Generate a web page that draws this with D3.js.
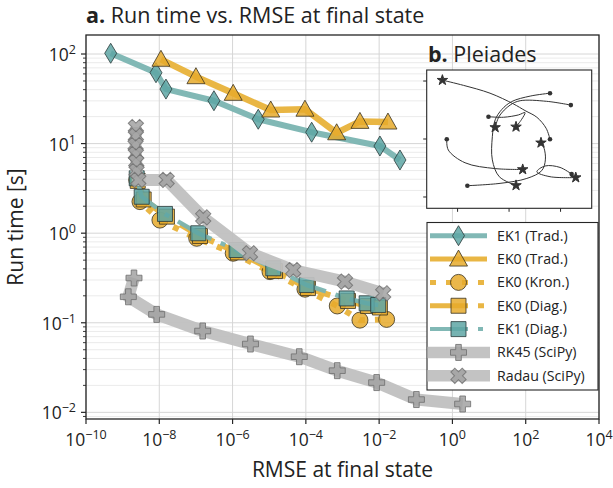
<!DOCTYPE html>
<html><head><meta charset="utf-8">
<script src="https://cdn.jsdelivr.net/npm/d3@7"></script>
<style>body{margin:0;background:#fff} svg{display:block;font-family:"Open Sans",sans-serif}</style>
</head><body><svg id="c" width="613" height="488"></svg>
<script>
// ---------- data ----------
const ek1TradErr  = [4.72e-10, 8.13e-9, 1.52e-8, 3.10e-7, 5.02e-6, 1.44e-4, 1.05e-2, 3.70e-2];
const ek1TradTime = [101.9, 61.8, 40.6, 30.1, 18.7, 13.4, 9.40, 6.56];
const ek0TradErr  = [1.11e-8, 1.00e-7, 1.04e-6, 1.10e-5, 9.44e-5, 6.92e-4, 2.99e-3, 1.74e-2];
const ek0TradTime = [87.3, 55.8, 36.4, 23.7, 24.2, 13.2, 17.7, 17.4];
const ek0KronErr  = [2.42e-9, 2.97e-9, 1.04e-8, 1.05e-7, 1.04e-6, 1.05e-5, 9.44e-5, 7.19e-4, 2.99e-3, 1.60e-2];
const ek0KronTime = [3.93, 2.25, 1.40, 0.877, 0.597, 0.372, 0.237, 0.154, 0.107, 0.109];
const ek0DiagErr  = [2.58e-9, 3.75e-9, 1.62e-8, 1.29e-7, 1.40e-6, 1.44e-5, 1.14e-4, 1.41e-3, 4.94e-3, 1.05e-2];
const ek0DiagTime = [3.83, 2.38, 1.53, 0.931, 0.610, 0.378, 0.244, 0.175, 0.154, 0.148];
const ek1DiagErr  = [2.42e-9, 3.31e-9, 1.43e-8, 1.16e-7, 1.29e-6, 1.29e-5, 1.05e-4, 1.30e-3, 4.56e-3, 9.44e-3];
const ek1DiagTime = [4.10, 2.55, 1.64, 0.998, 0.649, 0.406, 0.264, 0.187, 0.165, 0.158];
const rk45Err     = [2.04e-9, 1.43e-9, 8.49e-9, 1.53e-7, 3.08e-6, 6.61e-5, 7.19e-4, 8.55e-3, 1.04e-1, 1.90];
const rk45Time    = [0.316, 0.195, 0.124, 0.0809, 0.0579, 0.0418, 0.0292, 0.0215, 0.0139, 0.0124];
const radauErr    = [2.30e-9, 2.30e-9, 2.25e-9, 2.30e-9, 2.35e-9, 2.40e-9, 2.67e-9, 1.59e-8, 1.58e-7, 2.99e-6, 4.53e-5, 1.17e-3, 1.29e-2];
const radauTime   = [15.3, 12.2, 9.64, 7.66, 6.24, 4.94, 3.93, 3.93, 1.50, 0.597, 0.388, 0.288, 0.213];

const seriesNames = ["EK1 (Trad.)", "EK0 (Trad.)", "EK0 (Kron.)", "EK0 (Diag.)", "EK1 (Diag.)", "RK45 (SciPy)", "Radau (SciPy)"];
const xTickExps = [-10, -8, -6, -4, -2, 0, 2, 4];
const yTickExps = [-2, -1, 0, 1, 2];

// Pleiades inset trajectories (inset data units)
const pleiadesX = [
  [1.59, 0.82, 0.10, -0.28, -0.54, -0.65, -0.65, -0.38, 0.27],
  [2.40, 1.46, 0.43, 0.04, -0.38, -0.54],
  [-0.80, -0.22, 0.36, 0.62, 0.49, 0.27],
  [-2.42, -2.36, -1.71, -0.54, 0.53],
  [-1.62, -0.35, 0.69, 1.27, 1.41, 1.36, 1.24],
  [1.59, 1.44, 1.08, 0.62, 0.17, -0.74, -1.77, -2.59],
  [2.43, 1.98, 1.40, 1.08, 1.59, 2.59]
];
const pleiadesY = [
  [1.58, 1.48, 1.29, 1.02, 0.66, 0.08, -0.72, -1.30, -1.60],
  [1.17, 1.30, 1.32, 1.17, 0.79, 0.40],
  [0.77, 0.75, 0.83, 0.91, 0.68, 0.42],
  [-0.01, -0.38, -0.82, -1.02, -1.05],
  [-1.61, -1.53, -1.36, -1.09, -0.72, -0.32, -0.13],
  [-0.01, 0.37, 0.75, 0.98, 1.21, 1.58, 1.85, 2.03],
  [-1.21, -0.98, -0.93, -1.13, -1.30, -1.33]
];
const insetTicks = [-2, 0, 2];

// ---------- styles ----------
const TEAL_L = "#7ab4b1", TEAL_M = "#5ea6a4", GOLD_L = "#e8b23a", GOLD_M = "#e6aa2b", GRAY_L = "#c0c0c0", GRAY_M = "#a2a2a2";

function diamond(){ return "M0,-10L6,0L0,10L-6,0Z"; }
function triangle(){ return "M0,-9L9,7L-9,7Z"; }
function square(){ return "M-7.5,-7.5H7.5V7.5H-7.5Z"; }
function circle(){ return "M8,0A8,8 0 1,1 -8,0A8,8 0 1,1 8,0Z"; }
function plus(){ const a=2.8,b=8; return `M${-a},${-b}H${a}V${-a}H${b}V${a}H${a}V${b}H${-a}V${a}H${-b}V${-a}H${-a}Z`; }
function cross(){ return plus(); }

const series = [
  {name: seriesNames[0], x: ek1TradErr, y: ek1TradTime, line: TEAL_L, lw: 6, dash: null, fill: TEAL_M, stroke:"#2b3b3b", shape: diamond, rot: 0},
  {name: seriesNames[1], x: ek0TradErr, y: ek0TradTime, line: GOLD_L, lw: 6.5, dash: null, fill: GOLD_M, stroke:"#3a3220", shape: triangle, rot: 0},
  {name: seriesNames[2], x: ek0KronErr, y: ek0KronTime, line: GOLD_L, lw: 6, dash: "6,10", fill: GOLD_M, stroke:"#3a3220", shape: circle, rot: 0},
  {name: seriesNames[3], x: ek0DiagErr, y: ek0DiagTime, line: GOLD_L, lw: 6, dash: "38,10,6,10", fill: GOLD_M, stroke:"#3a3220", shape: square, rot: 0},
  {name: seriesNames[4], x: ek1DiagErr, y: ek1DiagTime, line: TEAL_L, lw: 4.5, dash: "38,10,5,10", fill: TEAL_M, stroke:"#2b3b3b", shape: square, rot: 0},
  {name: seriesNames[5], x: rk45Err, y: rk45Time, line: GRAY_L, lw: 12, dash: null, fill: GRAY_M, stroke:"#6e6e6e", shape: plus, rot: 0},
  {name: seriesNames[6], x: radauErr, y: radauTime, line: GRAY_L, lw: 12, dash: null, fill: GRAY_M, stroke:"#6e6e6e", shape: cross, rot: 45}
];

// ---------- layout ----------
const svg = d3.select("#c");
const L = 86, R = 599, T = 35, B = 419;
const x = d3.scaleLog().domain([1e-10, 1e4]).range([L, R]);
const y = d3.scaleLog().domain([0.00843, 163]).range([B, T]);

// grid
const g = svg.append("g");
const minorY = [];
for (let d = -3; d <= 2; d++) for (let k = 2; k <= 9; k++) { const v = k * Math.pow(10, d); if (v > y.domain()[0] && v < y.domain()[1]) minorY.push(v); }
g.selectAll(".gmin").data(minorY).join("line").attr("x1", L).attr("x2", R)
  .attr("y1", d => y(d)).attr("y2", d => y(d)).attr("stroke", "#ebebeb").attr("stroke-width", 1);
g.selectAll(".gmaj").data(yTickExps).join("line").attr("x1", L).attr("x2", R)
  .attr("y1", d => y(Math.pow(10, d))).attr("y2", d => y(Math.pow(10, d))).attr("stroke", "#d6d6d6").attr("stroke-width", 1);
g.selectAll(".gx").data(xTickExps).join("line").attr("y1", T).attr("y2", B)
  .attr("x1", d => x(Math.pow(10, d))).attr("x2", d => x(Math.pow(10, d))).attr("stroke", "#d6d6d6").attr("stroke-width", 1);

// series
svg.append("clipPath").attr("id", "pa").append("rect").attr("x", L).attr("y", T).attr("width", R - L).attr("height", B - T);
const plotG = svg.append("g").attr("clip-path", "url(#pa)");
const lineGen = d3.line().x(d => x(d[0])).y(d => y(d[1]));
series.forEach(s => {
  const pts = s.x.map((v, i) => [v, s.y[i]]);
  const sg = plotG.append("g");
  sg.append("path").attr("d", lineGen(pts)).attr("fill", "none").attr("stroke", s.line)
    .attr("stroke-width", s.lw).attr("stroke-dasharray", s.dash).attr("stroke-opacity", 0.95)
    .attr("stroke-linejoin", "round");
  sg.selectAll("path.m").data(pts).join("path").attr("class", "m").attr("d", s.shape())
    .attr("transform", d => `translate(${x(d[0])},${y(d[1])}) rotate(${s.rot})`)
    .attr("fill", s.fill).attr("fill-opacity", 0.85).attr("stroke", s.stroke).attr("stroke-opacity", 0.8).attr("stroke-width", 1);
});

// axes
const ax = svg.append("g");
ax.append("rect").attr("x", L).attr("y", T).attr("width", R - L).attr("height", B - T).attr("fill", "none").attr("stroke", "#262626").attr("stroke-width", 1.3);
xTickExps.forEach(e => {
  const px = x(Math.pow(10, e));
  ax.append("line").attr("x1", px).attr("x2", px).attr("y1", B).attr("y2", B + 5).attr("stroke", "#262626").attr("stroke-width", 1.2);
  const t = ax.append("text").attr("x", px).attr("y", 446).attr("text-anchor", "middle").attr("font-size", 17.5).attr("fill", "#222");
  t.append("tspan").text("10");
  t.append("tspan").attr("dy", -7).attr("font-size", 12.5).text(String(e).replace("-", "\u2212"));
});
yTickExps.forEach(e => {
  const py = y(Math.pow(10, e));
  ax.append("line").attr("x1", L - 5).attr("x2", L).attr("y1", py).attr("y2", py).attr("stroke", "#262626").attr("stroke-width", 1.2);
  const t = ax.append("text").attr("x", 76).attr("y", py + 7).attr("text-anchor", "end").attr("font-size", 17.5).attr("fill", "#222");
  t.append("tspan").text("10");
  t.append("tspan").attr("dy", -7).attr("font-size", 12.5).text(String(e).replace("-", "\u2212"));
});
minorY.forEach(v => {
  ax.append("line").attr("x1", L - 3).attr("x2", L).attr("y1", y(v)).attr("y2", y(v)).attr("stroke", "#262626").attr("stroke-width", 0.9);
});
svg.append("text").attr("x", (L + R) / 2).attr("y", 477).attr("text-anchor", "middle").attr("font-size", 21).attr("fill", "#222").text("RMSE at final state");
svg.append("text").attr("transform", `translate(23,${(T + B) / 2}) rotate(-90)`).attr("text-anchor", "middle").attr("font-size", 21).attr("fill", "#222").text("Run time [s]");
const title = svg.append("text").attr("x", L).attr("y", 23).attr("font-size", 21.5).attr("fill", "#222");
title.append("tspan").attr("font-weight", "bold").text("a.");
title.append("tspan").text(" Run time vs. RMSE at final state");

// ---------- inset ----------
const iL = 426.7, iR = 591.7, iT = 70, iB = 208.3;
const ix = d3.scaleLinear().domain([-3.2, 3.21]).range([iL, iR]);
const iy = d3.scaleLinear().domain([-2.39, 2.38]).range([iB, iT]);
const ig = svg.append("g");
ig.append("rect").attr("x", iL).attr("y", iT).attr("width", iR - iL).attr("height", iB - iT).attr("fill", "#fff");
const it = ig.append("text").attr("x", 428).attr("y", 61.5).attr("font-size", 21.5).attr("fill", "#222");
it.append("tspan").attr("font-weight", "bold").text("b.");
it.append("tspan").text(" Pleiades");
const iline = d3.line().x(d => ix(d[0])).y(d => iy(d[1])).curve(d3.curveCatmullRom.alpha(0.5));
pleiadesX.forEach((xs, k) => {
  const pts = xs.map((v, i) => [v, pleiadesY[k][i]]);
  ig.append("path").attr("d", iline(pts)).attr("fill", "none").attr("stroke", "#333").attr("stroke-width", 1);
  const s0 = pts[0], s1 = pts[pts.length - 1];
  ig.append("circle").attr("cx", ix(s0[0])).attr("cy", iy(s0[1])).attr("r", 2.3).attr("fill", "#333");
  ig.append("path").attr("d", d3.symbol(d3.symbolStar, 34)()).attr("transform", `translate(${ix(s1[0])},${iy(s1[1])})`)
    .attr("fill", "#333").attr("stroke", "#333").attr("stroke-width", 1).attr("stroke-linejoin", "round");
});
ig.append("rect").attr("x", iL).attr("y", iT).attr("width", iR - iL).attr("height", iB - iT).attr("fill", "none").attr("stroke", "#262626").attr("stroke-width", 1.1);
insetTicks.forEach(v => {
  ig.append("line").attr("x1", ix(v)).attr("x2", ix(v)).attr("y1", iB).attr("y2", iB + 3.5).attr("stroke", "#262626");
  ig.append("line").attr("x1", iL - 3.5).attr("x2", iL).attr("y1", iy(v)).attr("y2", iy(v)).attr("stroke", "#262626");
});

// ---------- legend ----------
const lg = svg.append("g");
lg.append("rect").attr("x", 427).attr("y", 222.5).attr("width", 171).attr("height", 167.5).attr("fill", "#fff").attr("stroke", "#262626").attr("stroke-width", 1.1);
series.forEach((s, i) => {
  const ly = 235.7 + i * 23.35;
  const wide = s.lw > 10;
  lg.append("line").attr("x1", wide ? 427.5 : 430).attr("x2", wide ? 490 : 487).attr("y1", ly).attr("y2", ly)
    .attr("stroke", s.line).attr("stroke-width", wide ? 11.5 : (s.lw > 5 ? 5 : 4)).attr("stroke-dasharray", s.dash).attr("stroke-opacity", 0.95);
  lg.append("path").attr("d", s.shape()).attr("transform", `translate(458.5,${ly}) rotate(${s.rot})`)
    .attr("fill", s.fill).attr("fill-opacity", 0.85).attr("stroke", s.stroke).attr("stroke-opacity", 0.8).attr("stroke-width", 1);
  lg.append("text").attr("x", 497).attr("y", ly + 5).attr("font-size", 14.2).attr("fill", "#222").text(s.name);
});
</script></body></html>
